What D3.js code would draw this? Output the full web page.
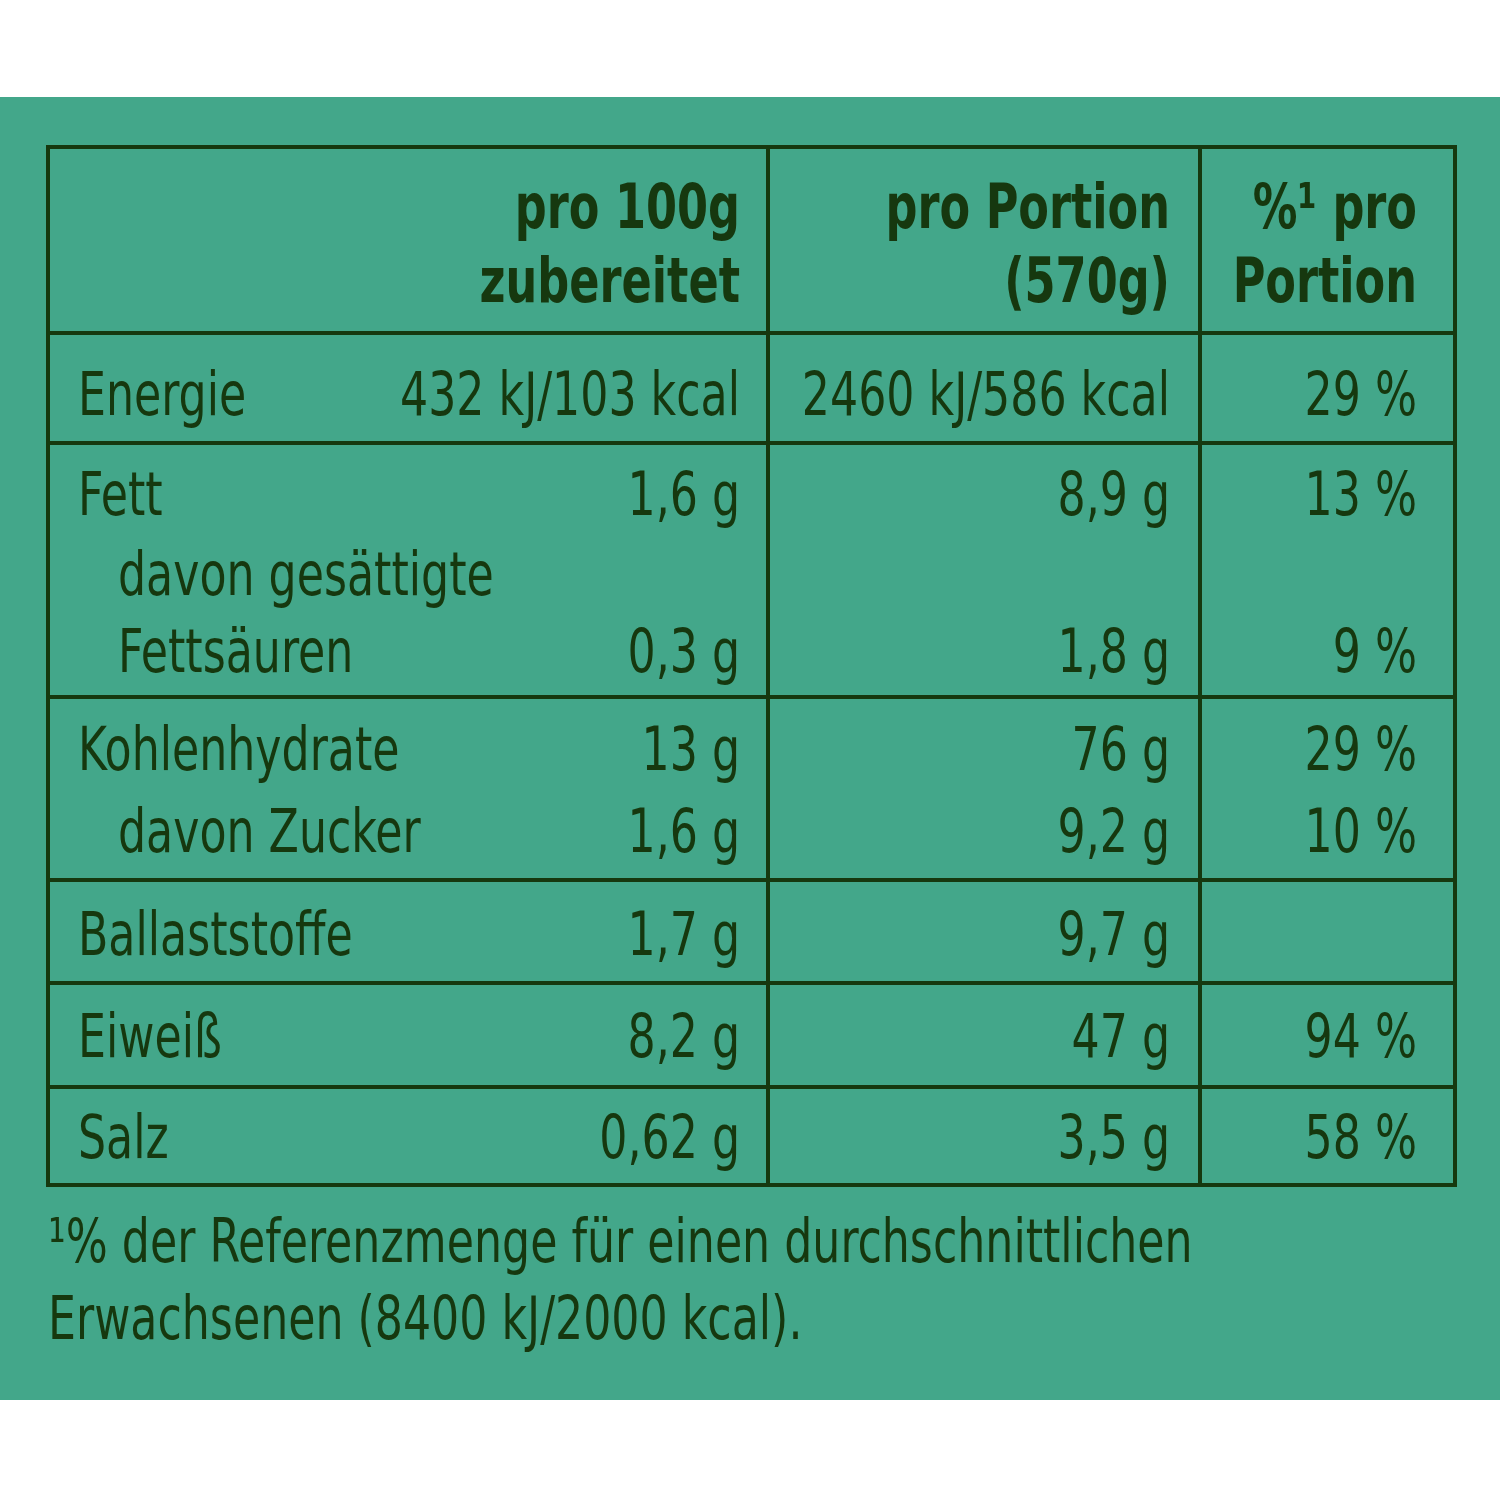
<!DOCTYPE html>
<html><head><meta charset="utf-8">
<script src="https://cdn.jsdelivr.net/npm/d3@7"></script>
<style>body{margin:0;background:#fff}</style>
</head><body>
<script>
// table content
var headers = [["pro 100g","zubereitet"],["pro Portion","(570g)"],["%\u00B9 pro","Portion"]];
var labels = [["Energie"],["Fett","  davon gesättigte","  Fettsäuren"],["Kohlenhydrate","  davon Zucker"],["Ballaststoffe"],["Eiweiß"],["Salz"]];
var per100 = [["432 kJ/103 kcal"],["1,6 g","","0,3 g"],["13 g","1,6 g"],["1,7 g"],["8,2 g"],["0,62 g"]];
var perPortion = [["2460 kJ/586 kcal"],["8,9 g","","1,8 g"],["76 g","9,2 g"],["9,7 g"],["47 g"],["3,5 g"]];
var pctPortion = [["29 %"],["13 %","","9 %"],["29 %","10 %"],[""],["94 %"],["58 %"]];
var footnote = ["\u00B9% der Referenzmenge für einen durchschnittlichen","Erwachsenen (8400 kJ/2000 kcal)."];

var rowLines = [147,333,443,697,880,983,1087,1185];
var colLines = [48,768,1200,1455];
var ink = "#16380f";
var font = "'DejaVu Sans Condensed','Liberation Sans Narrow',sans-serif";

var svg = d3.select("body").append("svg").attr("width",1500).attr("height",1500);
svg.append("rect").attr("x",0).attr("y",97).attr("width",1500).attr("height",1303).attr("fill","#43a78a");

var g = svg.append("g");
g.append("rect").attr("x",colLines[0]).attr("y",rowLines[0])
  .attr("width",colLines[3]-colLines[0]).attr("height",rowLines[7]-rowLines[0])
  .attr("fill","none").attr("stroke",ink).attr("stroke-width",4);
rowLines.slice(1,-1).forEach(function(y){
  g.append("line").attr("x1",colLines[0]).attr("x2",colLines[3]).attr("y1",y).attr("y2",y).attr("stroke",ink).attr("stroke-width",4);
});
colLines.slice(1,-1).forEach(function(x){
  g.append("line").attr("x1",x).attr("x2",x).attr("y1",rowLines[0]).attr("y2",rowLines[7]).attr("stroke",ink).attr("stroke-width",4);
});

var rightX = [740,1170,1417];
function txt(x,y,s,anchor,bold){
  g.append("text").attr("transform","translate("+x+","+y+") scale("+(bold?0.8:0.82)+",1)")
   .attr("text-anchor",anchor)
   .attr("font-family",font).attr("font-size",bold?62:60).attr("font-weight",bold?"bold":"normal")
   .attr("fill",ink).text(s);
}
headers.forEach(function(h,i){ txt(rightX[i],228,h[0],"end",true); txt(rightX[i],302,h[1],"end",true); });

var lineY = [[415],[515,595,672],[770,852],[955],[1057],[1158]];
labels.forEach(function(rows,r){
  rows.forEach(function(l,k){
    var indent = l.indexOf("  ")===0;
    txt(indent?118:78, lineY[r][k], l.trim(), "start", false);
    txt(rightX[0], lineY[r][k], per100[r][k], "end", false);
    txt(rightX[1], lineY[r][k], perPortion[r][k], "end", false);
    txt(rightX[2], lineY[r][k], pctPortion[r][k], "end", false);
  });
});
footnote.forEach(function(f,i){ txt(48, 1262+i*77, f, "start", false); });
</script>
</body></html>
